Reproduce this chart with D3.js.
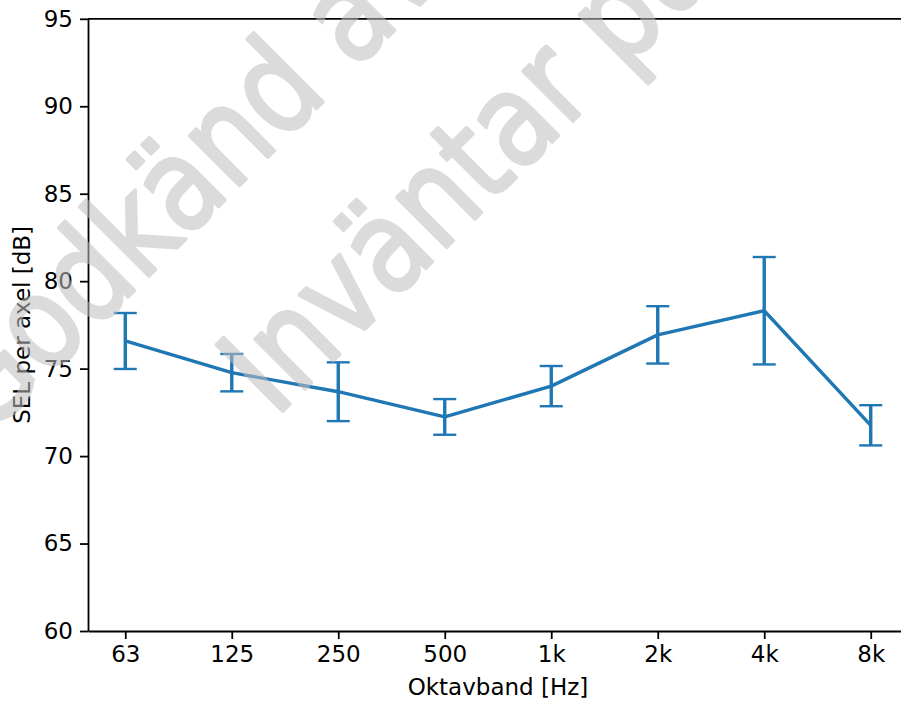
<!DOCTYPE html>
<html>
<head>
<meta charset="utf-8">
<script src="https://cdn.jsdelivr.net/npm/d3@7"></script>
<style>
  body { margin: 0; background: #fff; }
  svg { display: block; font-family: "DejaVu Sans", sans-serif; }
</style>
</head>
<body>
<div id="chart"></div>
<script>
// octave band levels, mean and error half-width per band
var bands = ["63", "125", "250", "500", "1k", "2k", "4k", "8k"];
var sel_mean = [76.58, 74.77, 73.68, 72.24, 74.0, 76.93, 78.31, 71.76];
var sel_err = [1.6, 1.07, 1.68, 1.02, 1.15, 1.64, 3.07, 1.15];
var y_ticks = [60, 65, 70, 75, 80, 85, 90, 95];
var watermark_lines = ["Godkänd av handläggare", "Inväntar publicering"];

var W = 901, H = 701;
var margin = {left: 88, top: 18.8, bottom: 70};
var plotW = 820; // runs past the right edge of the window, like the original crop
var plotH = H - margin.top - margin.bottom;
var blue = "#1f77b4";

var svg = d3.select("#chart").append("svg")
  .attr("width", W)
  .attr("height", H);

var x = d3.scalePoint()
  .domain(bands)
  .range([margin.left, margin.left + plotW])
  .padding(0.35);

var y = d3.scaleLinear()
  .domain([60, 95])
  .range([margin.top + plotH, margin.top]);

var data = bands.map(function(b, i) {
  return {band: b, v: sel_mean[i], lo: sel_mean[i] - sel_err[i], hi: sel_mean[i] + sel_err[i]};
});

//axes
var yAxis = d3.axisLeft(y).tickValues(y_ticks).tickSize(8).tickSizeOuter(0).tickPadding(7);
var xAxis = d3.axisBottom(x).tickSize(8).tickSizeOuter(0).tickPadding(7);

var gy = svg.append("g")
  .attr("transform", "translate(" + margin.left + ",0)")
  .call(yAxis);
var gx = svg.append("g")
  .attr("transform", "translate(0," + (margin.top + plotH) + ")")
  .call(xAxis);

[gx, gy].forEach(function(g) {
  g.selectAll(".domain").attr("stroke", "#000").attr("stroke-width", 1.8);
  g.selectAll(".tick line").attr("stroke", "#000").attr("stroke-width", 1.8);
  g.selectAll(".tick text")
    .attr("fill", "#000")
    .style("font-size", "23px")
    .style("font-family", "DejaVu Sans");
});

// top spine
svg.append("line")
  .attr("x1", margin.left).attr("x2", margin.left + plotW)
  .attr("y1", margin.top).attr("y2", margin.top)
  .attr("stroke", "#000").attr("stroke-width", 1.8);

// axis labels
svg.append("text")
  .attr("x", margin.left + plotW / 2)
  .attr("y", 695)
  .attr("text-anchor", "middle")
  .style("font-size", "23px")
  .text("Oktavband [Hz]");

svg.append("text")
  .attr("transform", "translate(30," + (margin.top + plotH / 2) + ") rotate(-90)")
  .attr("text-anchor", "middle")
  .style("font-size", "23px")
  .text("SEL per axel [dB]");

// error bars
var eb = svg.append("g").attr("stroke", blue);
eb.selectAll("line.bar").data(data).enter().append("line")
  .attr("class", "bar")
  .attr("x1", function(d) { return x(d.band); })
  .attr("x2", function(d) { return x(d.band); })
  .attr("y1", function(d) { return y(d.lo); })
  .attr("y2", function(d) { return y(d.hi); })
  .attr("stroke-width", 3.4);

["lo", "hi"].forEach(function(k) {
  eb.selectAll("line.cap" + k).data(data).enter().append("line")
    .attr("class", "cap" + k)
    .attr("x1", function(d) { return x(d.band) - 11.5; })
    .attr("x2", function(d) { return x(d.band) + 11.5; })
    .attr("y1", function(d) { return y(d[k]); })
    .attr("y2", function(d) { return y(d[k]); })
    .attr("stroke-width", 2.4);
});

// mean line
var line = d3.line()
  .x(function(d) { return x(d.band); })
  .y(function(d) { return y(d.v); });

svg.append("path")
  .datum(data)
  .attr("d", line)
  .attr("fill", "none")
  .attr("stroke", blue)
  .attr("stroke-width", 3.4)
  .attr("stroke-linejoin", "round");

// watermark drawn over everything, group opacity so stroke+fill blend once
var wm_origin = [[-14, 439], [275, 419]];
var wm = svg.append("g")
  .attr("opacity", 0.55)
  .attr("fill", "#bfbfbf")
  .attr("stroke", "#bfbfbf")
  .attr("stroke-width", 3.5)
  .attr("stroke-linejoin", "round")
  .style("font-size", "129px")
  .style("font-family", "DejaVu Sans");
watermark_lines.forEach(function(t, i) {
  wm.append("text")
    .attr("transform", "translate(" + wm_origin[i][0] + "," + wm_origin[i][1] + ") rotate(-45) scale(0.845,1)")
    .text(t);
});
</script>
</body>
</html>
